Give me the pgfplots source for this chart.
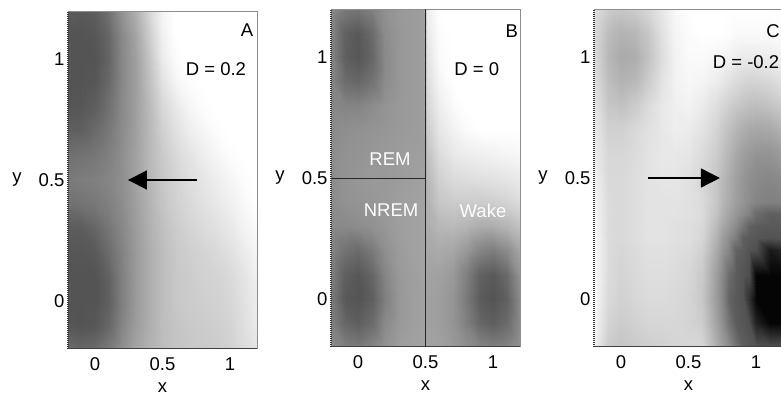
\documentclass[border=0pt]{standalone}
\usepackage{pgfplots}
\pgfplotsset{compat=1.18}
\usepackage{fontspec}
\setmainfont{Liberation Sans}
\usetikzlibrary{arrows.meta}
\newcommand{\lbl}{\fontsize{18.5}{22}\selectfont}
\pgfplotsset{
  panel/.style={
    scale only axis, width=189pt, height=338pt,
    xmin=-0.2,xmax=1.2,ymin=-0.2,ymax=1.2,
    xtick={0,0.5,1}, ytick={0,0.5,1},
    xticklabels={0,0.5,1}, yticklabels={0,0.5,1},
    major tick length=0pt,
    axis line style={draw=none},
    tick label style={font=\lbl},
    xticklabel style={yshift=-5pt},
    label style={font=\lbl},
    xlabel={x}, ylabel={y},
    ylabel style={rotate=-90, at={(axis description cs:0,0.5)}, anchor=center, xshift=-51pt},
    xlabel style={at={(axis description cs:0.5,0)}, anchor=center, yshift=-39pt},
    colormap={bw}{gray(0cm)=(0); gray(1cm)=(1)},
    point meta min=0, point meta max=1,
    clip=false,
  },
}
\newcommand{\panelframe}{%
  \draw[black!45, line width=0.8pt] (rel axis cs:0,1) -- (rel axis cs:1,1) -- (rel axis cs:1,0);
  \draw[black!75, line width=1pt] (rel axis cs:0,0) -- (rel axis cs:1,0);
  \draw[black!80, line width=1.2pt, dash pattern=on 1pt off 1pt] (rel axis cs:0,0) -- (rel axis cs:0,1);
}
\begin{document}
\begin{tikzpicture}[x=1pt,y=1pt]
\path[use as bounding box] (0,0) rectangle (781,403);
\clip (0,0) rectangle (781,403);
% ---------------- Panel A ----------------
\begin{axis}[panel, at={(68pt,54pt)}, anchor=south west]
\addplot[surf, shader=interp, mesh/cols=15, point meta=explicit] coordinates {
(-0.2,-0.2)[0.42] (-0.1,-0.2)[0.40] (0,-0.2)[0.42] (0.1,-0.2)[0.48] (0.2,-0.2)[0.56] (0.3,-0.2)[0.64] (0.4,-0.2)[0.70] (0.5,-0.2)[0.74] (0.6,-0.2)[0.77] (0.7,-0.2)[0.78] (0.8,-0.2)[0.79] (0.9,-0.2)[0.80] (1,-0.2)[0.82] (1.1,-0.2)[0.86] (1.2,-0.2)[0.90]
(-0.2,-0.1)[0.34] (-0.1,-0.1)[0.33] (0,-0.1)[0.34] (0.1,-0.1)[0.40] (0.2,-0.1)[0.52] (0.3,-0.1)[0.61] (0.4,-0.1)[0.68] (0.5,-0.1)[0.74] (0.6,-0.1)[0.77] (0.7,-0.1)[0.79] (0.8,-0.1)[0.80] (0.9,-0.1)[0.81] (1,-0.1)[0.83] (1.1,-0.1)[0.87] (1.2,-0.1)[0.92]
(-0.2,0)[0.33] (-0.1,0)[0.33] (0,0)[0.33] (0.1,0)[0.37] (0.2,0)[0.50] (0.3,0)[0.60] (0.4,0)[0.68] (0.5,0)[0.74] (0.6,0)[0.78] (0.7,0)[0.80] (0.8,0)[0.81] (0.9,0)[0.82] (1,0)[0.84] (1.1,0)[0.88] (1.2,0)[0.93]
(-0.2,0.1)[0.33] (-0.1,0.1)[0.33] (0,0.1)[0.33] (0.1,0.1)[0.38] (0.2,0.1)[0.50] (0.3,0.1)[0.60] (0.4,0.1)[0.68] (0.5,0.1)[0.74] (0.6,0.1)[0.78] (0.7,0.1)[0.80] (0.8,0.1)[0.82] (0.9,0.1)[0.83] (1,0.1)[0.85] (1.1,0.1)[0.89] (1.2,0.1)[0.94]
(-0.2,0.2)[0.34] (-0.1,0.2)[0.34] (0,0.2)[0.35] (0.1,0.2)[0.42] (0.2,0.2)[0.51] (0.3,0.2)[0.60] (0.4,0.2)[0.68] (0.5,0.2)[0.74] (0.6,0.2)[0.79] (0.7,0.2)[0.81] (0.8,0.2)[0.83] (0.9,0.2)[0.85] (1,0.2)[0.88] (1.1,0.2)[0.92] (1.2,0.2)[0.96]
(-0.2,0.3)[0.36] (-0.1,0.3)[0.36] (0,0.3)[0.40] (0.1,0.3)[0.46] (0.2,0.3)[0.53] (0.3,0.3)[0.61] (0.4,0.3)[0.69] (0.5,0.3)[0.75] (0.6,0.3)[0.80] (0.7,0.3)[0.83] (0.8,0.3)[0.86] (0.9,0.3)[0.88] (1,0.3)[0.91] (1.1,0.3)[0.95] (1.2,0.3)[0.98]
(-0.2,0.4)[0.44] (-0.1,0.4)[0.45] (0,0.4)[0.47] (0.1,0.4)[0.50] (0.2,0.4)[0.55] (0.3,0.4)[0.62] (0.4,0.4)[0.70] (0.5,0.4)[0.77] (0.6,0.4)[0.82] (0.7,0.4)[0.85] (0.8,0.4)[0.88] (0.9,0.4)[0.91] (1,0.4)[0.94] (1.1,0.4)[0.97] (1.2,0.4)[1]
(-0.2,0.5)[0.48] (-0.1,0.5)[0.49] (0,0.5)[0.50] (0.1,0.5)[0.52] (0.2,0.5)[0.56] (0.3,0.5)[0.63] (0.4,0.5)[0.71] (0.5,0.5)[0.78] (0.6,0.5)[0.83] (0.7,0.5)[0.87] (0.8,0.5)[0.90] (0.9,0.5)[0.93] (1,0.5)[0.96] (1.1,0.5)[0.99] (1.2,0.5)[1]
(-0.2,0.6)[0.44] (-0.1,0.6)[0.45] (0,0.6)[0.47] (0.1,0.6)[0.50] (0.2,0.6)[0.56] (0.3,0.6)[0.63] (0.4,0.6)[0.72] (0.5,0.6)[0.79] (0.6,0.6)[0.85] (0.7,0.6)[0.89] (0.8,0.6)[0.93] (0.9,0.6)[0.96] (1,0.6)[0.99] (1.1,0.6)[1] (1.2,0.6)[1]
(-0.2,0.7)[0.38] (-0.1,0.7)[0.38] (0,0.7)[0.42] (0.1,0.7)[0.47] (0.2,0.7)[0.55] (0.3,0.7)[0.62] (0.4,0.7)[0.72] (0.5,0.7)[0.81] (0.6,0.7)[0.88] (0.7,0.7)[0.93] (0.8,0.7)[0.96] (0.9,0.7)[0.99] (1,0.7)[1] (1.1,0.7)[1] (1.2,0.7)[1]
(-0.2,0.8)[0.34] (-0.1,0.8)[0.34] (0,0.8)[0.37] (0.1,0.8)[0.44] (0.2,0.8)[0.54] (0.3,0.8)[0.62] (0.4,0.8)[0.73] (0.5,0.8)[0.84] (0.6,0.8)[0.91] (0.7,0.8)[0.96] (0.8,0.8)[0.99] (0.9,0.8)[1] (1,0.8)[1] (1.1,0.8)[1] (1.2,0.8)[1]
(-0.2,0.9)[0.33] (-0.1,0.9)[0.33] (0,0.9)[0.34] (0.1,0.9)[0.41] (0.2,0.9)[0.53] (0.3,0.9)[0.62] (0.4,0.9)[0.75] (0.5,0.9)[0.88] (0.6,0.9)[0.96] (0.7,0.9)[0.99] (0.8,0.9)[1] (0.9,0.9)[1] (1,0.9)[1] (1.1,0.9)[1] (1.2,0.9)[1]
(-0.2,1)[0.33] (-0.1,1)[0.33] (0,1)[0.33] (0.1,1)[0.39] (0.2,1)[0.53] (0.3,1)[0.62] (0.4,1)[0.77] (0.5,1)[0.92] (0.6,1)[0.99] (0.7,1)[1] (0.8,1)[1] (0.9,1)[1] (1,1)[1] (1.1,1)[1] (1.2,1)[1]
(-0.2,1.1)[0.33] (-0.1,1.1)[0.33] (0,1.1)[0.34] (0.1,1.1)[0.40] (0.2,1.1)[0.54] (0.3,1.1)[0.64] (0.4,1.1)[0.80] (0.5,1.1)[0.94] (0.6,1.1)[1] (0.7,1.1)[1] (0.8,1.1)[1] (0.9,1.1)[1] (1,1.1)[1] (1.1,1.1)[1] (1.2,1.1)[1]
(-0.2,1.2)[0.36] (-0.1,1.2)[0.35] (0,1.2)[0.37] (0.1,1.2)[0.44] (0.2,1.2)[0.58] (0.3,1.2)[0.68] (0.4,1.2)[0.84] (0.5,1.2)[0.96] (0.6,1.2)[1] (0.7,1.2)[1] (0.8,1.2)[1] (0.9,1.2)[1] (1,1.2)[1] (1.1,1.2)[1] (1.2,1.2)[1]
};
\panelframe
\node[font=\lbl] at (axis cs:1.126,1.12) {A};
\node[font=\lbl] at (axis cs:0.896,0.96) {D = 0.2};
\draw[line width=1.5pt, -{Triangle[length=19pt, width=19pt]}] (axis cs:0.756,0.5) -- (axis cs:0.244,0.5);
\end{axis}
% ---------------- Panel B ----------------
\begin{axis}[panel, at={(331pt,56pt)}, anchor=south west]
\addplot[surf, shader=interp, mesh/cols=16, point meta=explicit] coordinates {
(-0.2,-0.2)[0.55] (-0.1,-0.2)[0.50] (0,-0.2)[0.48] (0.1,-0.2)[0.52] (0.2,-0.2)[0.58] (0.3,-0.2)[0.62] (0.4,-0.2)[0.63] (0.49,-0.2)[0.64] (0.51,-0.2)[0.64] (0.6,-0.2)[0.63] (0.7,-0.2)[0.60] (0.8,-0.2)[0.56] (0.9,-0.2)[0.52] (1,-0.2)[0.50] (1.1,-0.2)[0.52] (1.2,-0.2)[0.58]
(-0.2,-0.1)[0.50] (-0.1,-0.1)[0.40] (0,-0.1)[0.37] (0.1,-0.1)[0.42] (0.2,-0.1)[0.54] (0.3,-0.1)[0.60] (0.4,-0.1)[0.62] (0.49,-0.1)[0.63] (0.51,-0.1)[0.63] (0.6,-0.1)[0.62] (0.7,-0.1)[0.58] (0.8,-0.1)[0.50] (0.9,-0.1)[0.40] (1,-0.1)[0.37] (1.1,-0.1)[0.42] (1.2,-0.1)[0.55]
(-0.2,0)[0.48] (-0.1,0)[0.35] (0,0)[0.33] (0.1,0)[0.37] (0.2,0)[0.50] (0.3,0)[0.59] (0.4,0)[0.62] (0.49,0)[0.63] (0.51,0)[0.63] (0.6,0)[0.62] (0.7,0)[0.58] (0.8,0)[0.48] (0.9,0)[0.36] (1,0)[0.33] (1.1,0)[0.38] (1.2,0)[0.55]
(-0.2,0.1)[0.50] (-0.1,0.1)[0.37] (0,0.1)[0.34] (0.1,0.1)[0.40] (0.2,0.1)[0.52] (0.3,0.1)[0.60] (0.4,0.1)[0.62] (0.49,0.1)[0.64] (0.51,0.1)[0.64] (0.6,0.1)[0.63] (0.7,0.1)[0.60] (0.8,0.1)[0.50] (0.9,0.1)[0.38] (1,0.1)[0.35] (1.1,0.1)[0.42] (1.2,0.1)[0.58]
(-0.2,0.2)[0.52] (-0.1,0.2)[0.45] (0,0.2)[0.42] (0.1,0.2)[0.48] (0.2,0.2)[0.56] (0.3,0.2)[0.61] (0.4,0.2)[0.63] (0.49,0.2)[0.64] (0.51,0.2)[0.66] (0.6,0.2)[0.67] (0.7,0.2)[0.65] (0.8,0.2)[0.60] (0.9,0.2)[0.52] (1,0.2)[0.49] (1.1,0.2)[0.55] (1.2,0.2)[0.65]
(-0.2,0.3)[0.54] (-0.1,0.3)[0.54] (0,0.3)[0.55] (0.1,0.3)[0.57] (0.2,0.3)[0.59] (0.3,0.3)[0.62] (0.4,0.3)[0.63] (0.49,0.3)[0.64] (0.51,0.3)[0.68] (0.6,0.3)[0.72] (0.7,0.3)[0.73] (0.8,0.3)[0.71] (0.9,0.3)[0.68] (1,0.3)[0.68] (1.1,0.3)[0.71] (1.2,0.3)[0.76]
(-0.2,0.4)[0.55] (-0.1,0.4)[0.57] (0,0.4)[0.58] (0.1,0.4)[0.59] (0.2,0.4)[0.60] (0.3,0.4)[0.62] (0.4,0.4)[0.63] (0.49,0.4)[0.64] (0.51,0.4)[0.70] (0.6,0.4)[0.78] (0.7,0.4)[0.80] (0.8,0.4)[0.80] (0.9,0.4)[0.80] (1,0.4)[0.81] (1.1,0.4)[0.83] (1.2,0.4)[0.86]
(-0.2,0.5)[0.55] (-0.1,0.5)[0.58] (0,0.5)[0.59] (0.1,0.5)[0.60] (0.2,0.5)[0.60] (0.3,0.5)[0.61] (0.4,0.5)[0.62] (0.49,0.5)[0.63] (0.51,0.5)[0.72] (0.6,0.5)[0.82] (0.7,0.5)[0.86] (0.8,0.5)[0.87] (0.9,0.5)[0.88] (1,0.5)[0.89] (1.1,0.5)[0.90] (1.2,0.5)[0.92]
(-0.2,0.6)[0.55] (-0.1,0.6)[0.57] (0,0.6)[0.58] (0.1,0.6)[0.59] (0.2,0.6)[0.60] (0.3,0.6)[0.61] (0.4,0.6)[0.62] (0.49,0.6)[0.62] (0.51,0.6)[0.76] (0.6,0.6)[0.86] (0.7,0.6)[0.91] (0.8,0.6)[0.93] (0.9,0.6)[0.94] (1,0.6)[0.95] (1.1,0.6)[0.96] (1.2,0.6)[0.97]
(-0.2,0.7)[0.54] (-0.1,0.7)[0.56] (0,0.7)[0.57] (0.1,0.7)[0.58] (0.2,0.7)[0.59] (0.3,0.7)[0.60] (0.4,0.7)[0.61] (0.49,0.7)[0.62] (0.51,0.7)[0.80] (0.6,0.7)[0.90] (0.7,0.7)[0.95] (0.8,0.7)[0.98] (0.9,0.7)[1] (1,0.7)[1] (1.1,0.7)[1] (1.2,0.7)[1]
(-0.2,0.8)[0.53] (-0.1,0.8)[0.52] (0,0.8)[0.52] (0.1,0.8)[0.55] (0.2,0.8)[0.58] (0.3,0.8)[0.60] (0.4,0.8)[0.61] (0.49,0.8)[0.62] (0.51,0.8)[0.84] (0.6,0.8)[0.93] (0.7,0.8)[0.98] (0.8,0.8)[1] (0.9,0.8)[1] (1,0.8)[1] (1.1,0.8)[1] (1.2,0.8)[1]
(-0.2,0.9)[0.52] (-0.1,0.9)[0.42] (0,0.9)[0.40] (0.1,0.9)[0.45] (0.2,0.9)[0.55] (0.3,0.9)[0.59] (0.4,0.9)[0.61] (0.49,0.9)[0.62] (0.51,0.9)[0.87] (0.6,0.9)[0.96] (0.7,0.9)[1] (0.8,0.9)[1] (0.9,0.9)[1] (1,0.9)[1] (1.1,0.9)[1] (1.2,0.9)[1]
(-0.2,1)[0.52] (-0.1,1)[0.37] (0,1)[0.34] (0.1,1)[0.40] (0.2,1)[0.54] (0.3,1)[0.59] (0.4,1)[0.61] (0.49,1)[0.62] (0.51,1)[0.89] (0.6,1)[0.98] (0.7,1)[1] (0.8,1)[1] (0.9,1)[1] (1,1)[1] (1.1,1)[1] (1.2,1)[1]
(-0.2,1.1)[0.52] (-0.1,1.1)[0.38] (0,1.1)[0.35] (0.1,1.1)[0.42] (0.2,1.1)[0.55] (0.3,1.1)[0.59] (0.4,1.1)[0.61] (0.49,1.1)[0.62] (0.51,1.1)[0.91] (0.6,1.1)[0.99] (0.7,1.1)[1] (0.8,1.1)[1] (0.9,1.1)[1] (1,1.1)[1] (1.1,1.1)[1] (1.2,1.1)[1]
(-0.2,1.2)[0.54] (-0.1,1.2)[0.48] (0,1.2)[0.46] (0.1,1.2)[0.50] (0.2,1.2)[0.57] (0.3,1.2)[0.60] (0.4,1.2)[0.61] (0.49,1.2)[0.62] (0.51,1.2)[0.93] (0.6,1.2)[1] (0.7,1.2)[1] (0.8,1.2)[1] (0.9,1.2)[1] (1,1.2)[1] (1.1,1.2)[1] (1.2,1.2)[1]
};
\panelframe
\draw[black!85, line width=0.8pt] (axis cs:0.5,-0.2) -- (axis cs:0.5,1.2);
\draw[black!85, line width=0.8pt] (axis cs:-0.2,0.5) -- (axis cs:0.5,0.5);
\node[font=\lbl] at (axis cs:1.14,1.11) {B};
\node[font=\lbl] at (axis cs:0.88,0.95) {D = 0};
\node[font=\lbl, text=white] at (axis cs:0.237,0.58) {REM};
\node[font=\lbl, text=white] at (axis cs:0.245,0.365) {NREM};
\node[font=\lbl, text=white] at (axis cs:0.926,0.365) {Wake};
\end{axis}
% ---------------- Panel C ----------------
\begin{axis}[panel, at={(594pt,56pt)}, anchor=south west]
\addplot[surf, shader=interp, mesh/cols=18, point meta=explicit] coordinates {
(-0.2,-0.2)[0.95] (-0.1,-0.2)[0.80] (0,-0.2)[0.77] (0.1,-0.2)[0.79] (0.2,-0.2)[0.81] (0.3,-0.2)[0.82] (0.4,-0.2)[0.83] (0.5,-0.2)[0.84] (0.6,-0.2)[0.84] (0.7,-0.2)[0.69] (0.75,-0.2)[0.62] (0.8,-0.2)[0.55] (0.85,-0.2)[0.45] (0.9,-0.2)[0.37] (0.95,-0.2)[0.35] (1,-0.2)[0.33] (1.1,-0.2)[0.31] (1.2,-0.2)[0.32]
(-0.2,-0.1)[0.97] (-0.1,-0.1)[0.83] (0,-0.1)[0.80] (0.1,-0.1)[0.82] (0.2,-0.1)[0.84] (0.3,-0.1)[0.84] (0.4,-0.1)[0.84] (0.5,-0.1)[0.83] (0.6,-0.1)[0.80] (0.7,-0.1)[0.64] (0.75,-0.1)[0.56] (0.8,-0.1)[0.45] (0.85,-0.1)[0.36] (0.9,-0.1)[0.34] (0.95,-0.1)[0.31] (1,-0.1)[0.13] (1.1,-0.1)[0.02] (1.2,-0.1)[0.02]
(-0.2,0)[0.98] (-0.1,0)[0.85] (0,0)[0.82] (0.1,0)[0.84] (0.2,0)[0.86] (0.3,0)[0.86] (0.4,0)[0.85] (0.5,0)[0.83] (0.6,0)[0.78] (0.7,0)[0.61] (0.75,0)[0.53] (0.8,0)[0.39] (0.85,0)[0.35] (0.9,0)[0.32] (0.95,0)[0.19] (1,0)[0.02] (1.1,0)[0.02] (1.2,0)[0.02]
(-0.2,0.1)[0.98] (-0.1,0.1)[0.86] (0,0.1)[0.83] (0.1,0.1)[0.85] (0.2,0.1)[0.87] (0.3,0.1)[0.87] (0.4,0.1)[0.86] (0.5,0.1)[0.84] (0.6,0.1)[0.79] (0.7,0.1)[0.62] (0.75,0.1)[0.54] (0.8,0.1)[0.42] (0.85,0.1)[0.36] (0.9,0.1)[0.33] (0.95,0.1)[0.30] (1,0.1)[0.02] (1.1,0.1)[0.02] (1.2,0.1)[0.02]
(-0.2,0.2)[0.98] (-0.1,0.2)[0.86] (0,0.2)[0.84] (0.1,0.2)[0.86] (0.2,0.2)[0.88] (0.3,0.2)[0.88] (0.4,0.2)[0.87] (0.5,0.2)[0.86] (0.6,0.2)[0.82] (0.7,0.2)[0.67] (0.75,0.2)[0.59] (0.8,0.2)[0.52] (0.85,0.2)[0.38] (0.9,0.2)[0.36] (0.95,0.2)[0.33] (1,0.2)[0.31] (1.1,0.2)[0.10] (1.2,0.2)[0.15]
(-0.2,0.25)[0.98] (-0.1,0.25)[0.86] (0,0.25)[0.85] (0.1,0.25)[0.87] (0.2,0.25)[0.89] (0.3,0.25)[0.89] (0.4,0.25)[0.88] (0.5,0.25)[0.87] (0.6,0.25)[0.84] (0.7,0.25)[0.70] (0.75,0.25)[0.62] (0.8,0.25)[0.55] (0.85,0.25)[0.48] (0.9,0.25)[0.37] (0.95,0.25)[0.35] (1,0.25)[0.34] (1.1,0.25)[0.32] (1.2,0.25)[0.33]
(-0.2,0.3)[0.97] (-0.1,0.3)[0.86] (0,0.3)[0.85] (0.1,0.3)[0.87] (0.2,0.3)[0.89] (0.3,0.3)[0.89] (0.4,0.3)[0.88] (0.5,0.3)[0.87] (0.6,0.3)[0.85] (0.7,0.3)[0.73] (0.75,0.3)[0.66] (0.8,0.3)[0.60] (0.85,0.3)[0.54] (0.9,0.3)[0.46] (0.95,0.3)[0.38] (1,0.3)[0.36] (1.1,0.3)[0.35] (1.2,0.3)[0.35]
(-0.2,0.35)[0.97] (-0.1,0.35)[0.86] (0,0.35)[0.85] (0.1,0.35)[0.87] (0.2,0.35)[0.89] (0.3,0.35)[0.89] (0.4,0.35)[0.89] (0.5,0.35)[0.88] (0.6,0.35)[0.86] (0.7,0.35)[0.76] (0.75,0.35)[0.70] (0.8,0.35)[0.64] (0.85,0.35)[0.59] (0.9,0.35)[0.54] (0.95,0.35)[0.50] (1,0.35)[0.42] (1.1,0.35)[0.37] (1.2,0.35)[0.38]
(-0.2,0.4)[0.96] (-0.1,0.4)[0.86] (0,0.4)[0.85] (0.1,0.4)[0.87] (0.2,0.4)[0.89] (0.3,0.4)[0.89] (0.4,0.4)[0.89] (0.5,0.4)[0.88] (0.6,0.4)[0.86] (0.7,0.4)[0.78] (0.75,0.4)[0.72] (0.8,0.4)[0.67] (0.85,0.4)[0.62] (0.9,0.4)[0.58] (0.95,0.4)[0.55] (1,0.4)[0.52] (1.1,0.4)[0.50] (1.2,0.4)[0.51]
(-0.2,0.5)[0.95] (-0.1,0.5)[0.85] (0,0.5)[0.85] (0.1,0.5)[0.87] (0.2,0.5)[0.89] (0.3,0.5)[0.90] (0.4,0.5)[0.90] (0.5,0.5)[0.88] (0.6,0.5)[0.84] (0.7,0.5)[0.78] (0.75,0.5)[0.73] (0.8,0.5)[0.68] (0.85,0.5)[0.63] (0.9,0.5)[0.59] (0.95,0.5)[0.56] (1,0.5)[0.54] (1.1,0.5)[0.53] (1.2,0.5)[0.55]
(-0.2,0.6)[0.93] (-0.1,0.6)[0.84] (0,0.6)[0.84] (0.1,0.6)[0.86] (0.2,0.6)[0.89] (0.3,0.6)[0.91] (0.4,0.6)[0.91] (0.5,0.6)[0.90] (0.6,0.6)[0.86] (0.7,0.6)[0.80] (0.75,0.6)[0.76] (0.8,0.6)[0.71] (0.85,0.6)[0.66] (0.9,0.6)[0.62] (0.95,0.6)[0.60] (1,0.6)[0.58] (1.1,0.6)[0.58] (1.2,0.6)[0.61]
(-0.2,0.7)[0.92] (-0.1,0.7)[0.82] (0,0.7)[0.82] (0.1,0.7)[0.85] (0.2,0.7)[0.88] (0.3,0.7)[0.91] (0.4,0.7)[0.93] (0.5,0.7)[0.92] (0.6,0.7)[0.89] (0.7,0.7)[0.83] (0.75,0.7)[0.79] (0.8,0.7)[0.75] (0.85,0.7)[0.71] (0.9,0.7)[0.68] (0.95,0.7)[0.66] (1,0.7)[0.65] (1.1,0.7)[0.66] (1.2,0.7)[0.70]
(-0.2,0.8)[0.90] (-0.1,0.8)[0.78] (0,0.8)[0.76] (0.1,0.8)[0.80] (0.2,0.8)[0.86] (0.3,0.8)[0.91] (0.4,0.8)[0.94] (0.5,0.8)[0.95] (0.6,0.8)[0.92] (0.7,0.8)[0.87] (0.75,0.8)[0.84] (0.8,0.8)[0.81] (0.85,0.8)[0.78] (0.9,0.8)[0.76] (0.95,0.8)[0.75] (1,0.8)[0.74] (1.1,0.8)[0.76] (1.2,0.8)[0.80]
(-0.2,0.9)[0.88] (-0.1,0.9)[0.74] (0,0.9)[0.70] (0.1,0.9)[0.72] (0.2,0.9)[0.80] (0.3,0.9)[0.89] (0.4,0.9)[0.95] (0.5,0.9)[0.97] (0.6,0.9)[0.96] (0.7,0.9)[0.93] (0.75,0.9)[0.91] (0.8,0.9)[0.88] (0.85,0.9)[0.86] (0.9,0.9)[0.84] (0.95,0.9)[0.83] (1,0.9)[0.83] (1.1,0.9)[0.85] (1.2,0.9)[0.88]
(-0.2,1)[0.86] (-0.1,1)[0.72] (0,1)[0.67] (0.1,1)[0.68] (0.2,1)[0.76] (0.3,1)[0.87] (0.4,1)[0.95] (0.5,1)[0.98] (0.6,1)[0.98] (0.7,1)[0.97] (0.75,1)[0.96] (0.8,1)[0.95] (0.85,1)[0.93] (0.9,1)[0.92] (0.95,1)[0.92] (1,1)[0.92] (1.1,1)[0.93] (1.2,1)[0.95]
(-0.2,1.1)[0.86] (-0.1,1.1)[0.74] (0,1.1)[0.70] (0.1,1.1)[0.72] (0.2,1.1)[0.78] (0.3,1.1)[0.88] (0.4,1.1)[0.96] (0.5,1.1)[0.99] (0.6,1.1)[1] (0.7,1.1)[1] (0.75,1.1)[1] (0.8,1.1)[0.99] (0.85,1.1)[0.98] (0.9,1.1)[0.98] (0.95,1.1)[0.98] (1,1.1)[0.98] (1.1,1.1)[0.98] (1.2,1.1)[0.99]
(-0.2,1.2)[0.88] (-0.1,1.2)[0.80] (0,1.2)[0.78] (0.1,1.2)[0.80] (0.2,1.2)[0.84] (0.3,1.2)[0.91] (0.4,1.2)[0.97] (0.5,1.2)[1] (0.6,1.2)[1] (0.7,1.2)[1] (0.75,1.2)[1] (0.8,1.2)[1] (0.85,1.2)[1] (0.9,1.2)[1] (0.95,1.2)[1] (1,1.2)[1] (1.1,1.2)[1] (1.2,1.2)[1]
};
\panelframe
\node[font=\lbl] at (axis cs:1.126,1.11) {C};
\node[font=\lbl] at (axis cs:0.926,0.98) {D = -0.2};
\draw[line width=1.5pt, -{Triangle[length=19pt, width=19pt]}] (axis cs:0.2,0.5) -- (axis cs:0.733,0.5);
\end{axis}
\end{tikzpicture}
\end{document}
